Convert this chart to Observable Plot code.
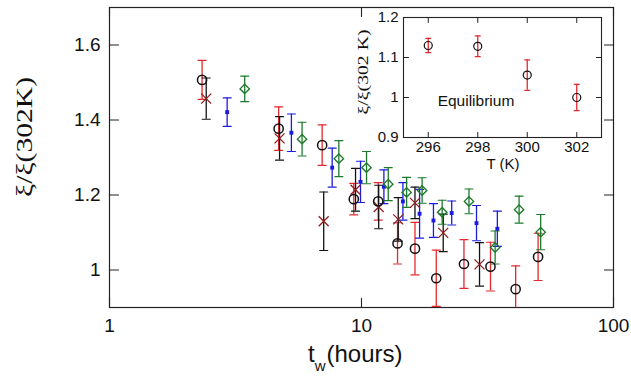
<!DOCTYPE html>
<html>
<head>
<meta charset="utf-8">
<script src="https://cdn.jsdelivr.net/npm/d3@7"></script>
<script src="https://cdn.jsdelivr.net/npm/@observablehq/plot@0.6"></script>
<style>
  html, body { margin: 0; padding: 0; background: white; }
  #wrap { position: relative; width: 631px; height: 378px; }
  #wrap svg { position: absolute; left: 0; top: 0; }
</style>
</head>
<body>
<div id="wrap"></div>
<script>
// ---- main panel data: waiting time t_w (hours), xi/xi(302K), error ----
const circT = [2.33, 4.69, 6.98, 9.32, 11.65, 13.9, 16.3, 19.8, 25.5, 32.5, 40.9, 50.2];
const circV = [1.507, 1.377, 1.333, 1.189, 1.183, 1.071, 1.057, 0.978, 1.016, 1.009, 0.949, 1.035];
const circE = [0.052, 0.058, 0.054, 0.042, 0.05, 0.055, 0.07, 0.075, 0.065, 0.065, 0.062, 0.063];

const crossT = [2.42, 4.73, 7.08, 9.47, 11.7, 13.99, 16.3, 21.1, 29.4];
const crossV = [1.457, 1.351, 1.130, 1.214, 1.168, 1.135, 1.179, 1.099, 1.015];
const crossE = [0.055, 0.058, 0.078, 0.057, 0.058, 0.058, 0.042, 0.05, 0.058];

const sqT = [2.93, 5.27, 7.65, 9.91, 12.27, 14.6, 17.0, 19.3, 22.8, 28.6, 34.6];
const sqV = [1.421, 1.366, 1.273, 1.235, 1.222, 1.183, 1.15, 1.132, 1.152, 1.125, 1.110];
const sqE = [0.038, 0.05, 0.052, 0.055, 0.045, 0.05, 0.065, 0.045, 0.032, 0.047, 0.047];

const diaT = [3.44, 5.81, 8.13, 10.47, 12.77, 15.1, 17.4, 20.9, 26.7, 33.9, 42.2, 51.4];
const diaV = [1.483, 1.349, 1.297, 1.273, 1.229, 1.207, 1.212, 1.154, 1.183, 1.060, 1.161, 1.101];
const diaE = [0.034, 0.045, 0.048, 0.043, 0.044, 0.04, 0.034, 0.032, 0.033, 0.044, 0.036, 0.047];

const xTicks = [1, 10, 100];
const yTicks = [1, 1.2, 1.4, 1.6];

// ---- inset data: equilibrium vs temperature ----
const eqT = [296, 298, 300, 302];
const eqV = [1.13, 1.128, 1.056, 1.0];
const eqE = [0.018, 0.026, 0.038, 0.033];
const inXTicks = [296, 298, 300, 302];
const inYTicks = [0.9, 1, 1.1, 1.2];

const rows = (T, V, E) => T.map((t, i) => ({t, v: V[i], lo: V[i] - E[i], hi: V[i] + E[i]}));
const circ = rows(circT, circV, circE);
const cross = rows(crossT, crossV, crossE);
const sq = rows(sqT, sqV, sqE);
const dia = rows(diaT, diaV, diaE);
const eq = rows(eqT, eqV, eqE);

const lineShape = {draw(ctx, l) { ctx.moveTo(0, 0); ctx.lineTo(0, -l); }};

const RED = "#e5282e", BLUE = "#1c1ce0", GREEN = "#1d7a2c", DARKRED = "#8e1d1d", BLACK = "#111";

function errBars(data, color, capLen) {
  return [
    Plot.ruleX(data, {x: "t", y1: "lo", y2: "hi", stroke: color, strokeWidth: 1.3, clip: true}),
    Plot.vector(data, {x: "t", y: "lo", rotate: 90, length: capLen, anchor: "middle", shape: lineShape, stroke: color, strokeWidth: 1.2, clip: true}),
    Plot.vector(data, {x: "t", y: "hi", rotate: 90, length: capLen, anchor: "middle", shape: lineShape, stroke: color, strokeWidth: 1.2, clip: true})
  ];
}

function inwardTicks(xt, yt, len, w) {
  return [
    Plot.vector(yt, {y: d => d, frameAnchor: "left", rotate: 90, length: len, anchor: "start", shape: lineShape, stroke: "#222", strokeWidth: w}),
    Plot.vector(yt, {y: d => d, frameAnchor: "right", rotate: -90, length: len, anchor: "start", shape: lineShape, stroke: "#222", strokeWidth: w}),
    Plot.vector(xt, {x: d => d, frameAnchor: "bottom", rotate: 0, length: len, anchor: "start", shape: lineShape, stroke: "#222", strokeWidth: w}),
    Plot.vector(xt, {x: d => d, frameAnchor: "top", rotate: 180, length: len, anchor: "start", shape: lineShape, stroke: "#222", strokeWidth: w})
  ];
}

const main = Plot.plot({
  width: 631, height: 378,
  marginLeft: 109, marginRight: 18, marginTop: 7, marginBottom: 71,
  style: {fontFamily: "'Liberation Sans', Arial, sans-serif", fontSize: "19px", background: "white", color: "#111"},
  x: {type: "log", domain: [1, 100]},
  y: {domain: [0.9, 1.7]},
  marks: [
    Plot.frame({stroke: "#222", strokeWidth: 1.2}),
    ...inwardTicks(xTicks, yTicks, 9, 1.1),
    Plot.axisX({ticks: xTicks, tickSize: 0, tickPadding: 11, tickFormat: d => String(d), label: null, fontSize: 19}),
    Plot.axisY({ticks: yTicks, tickSize: 0, tickPadding: 9, tickFormat: d => String(d), label: null, fontSize: 19}),
    ...errBars(circ, RED, 8),
    ...errBars(cross, BLACK, 8),
    ...errBars(sq, BLUE, 8),
    ...errBars(dia, GREEN, 8),
    Plot.dot(sq, {x: "t", y: "v", symbol: "square", r: 2.2, fill: BLUE}),
    Plot.dot(dia, {x: "t", y: "v", symbol: "diamond2", r: 4.2, stroke: GREEN, strokeWidth: 1.4, fill: "none"}),
    Plot.dot(cross, {x: "t", y: "v", symbol: "times", r: 4.6, stroke: DARKRED, strokeWidth: 1.3}),
    Plot.dot(circ, {x: "t", y: "v", symbol: "circle", r: 4.6, stroke: BLACK, strokeWidth: 1.5, fill: "none"})
  ]
});

const inset = Plot.plot({
  width: 631, height: 378,
  marginLeft: 403, marginRight: 30, marginTop: 17, marginBottom: 241,
  style: {fontFamily: "'Liberation Sans', Arial, sans-serif", fontSize: "15px", background: "transparent", color: "#111"},
  x: {domain: [295, 303]},
  y: {domain: [0.9, 1.2]},
  marks: [
    Plot.frame({fill: "white", stroke: "#222", strokeWidth: 1.1}),
    ...inwardTicks(inXTicks, inYTicks, 5, 1),
    Plot.axisX({ticks: inXTicks, tickSize: 0, tickPadding: 4, tickFormat: d => String(d), label: null, fontSize: 15}),
    Plot.axisY({ticks: inYTicks, tickSize: 0, tickPadding: 5, tickFormat: d => String(d), label: null, fontSize: 15}),
    ...errBars(eq, RED, 5),
    Plot.dot(eq, {x: "t", y: "v", symbol: "circle", r: 4, stroke: BLACK, strokeWidth: 1.2, fill: "none"})
  ]
});
inset.style.pointerEvents = "none";

const wrap = document.getElementById("wrap");
wrap.appendChild(main);
wrap.appendChild(inset);

// ---- labels ----
const ms = d3.select(main);
ms.append("text")
  .attr("transform", "translate(24,137) rotate(-90)")
  .attr("text-anchor", "middle").attr("dominant-baseline", "central")
  .attr("font-family", "'Liberation Serif', 'Times New Roman', serif")
  .attr("font-size", 23).attr("fill", "#111")
  .attr("textLength", 120).attr("lengthAdjust", "spacingAndGlyphs")
  .text("ξ/ξ(302K)");
const xl = ms.append("text")
  .attr("x", 308).attr("y", 362).attr("text-anchor", "start")
  .attr("font-family", "'Liberation Sans', Arial, sans-serif")
  .attr("font-size", 24).attr("fill", "#111");
xl.append("tspan").text("t");
xl.append("tspan").attr("font-size", 15).attr("dy", 9).text("w");
xl.append("tspan").attr("dy", -9).attr("dx", 1).text("(hours)");

const is = d3.select(inset);
is.append("text")
  .attr("transform", "translate(363,72) rotate(-90)")
  .attr("text-anchor", "middle").attr("dominant-baseline", "central")
  .attr("font-family", "'Liberation Serif', 'Times New Roman', serif")
  .attr("font-size", 15).attr("fill", "#111")
  .attr("textLength", 85).attr("lengthAdjust", "spacingAndGlyphs")
  .text("ξ/ξ(302 K)");
is.append("text")
  .attr("x", 503).attr("y", 169).attr("text-anchor", "middle")
  .attr("font-family", "'Liberation Sans', Arial, sans-serif")
  .attr("font-size", 15).attr("fill", "#111")
  .text("T (K)");
is.append("text")
  .attr("x", 476).attr("y", 106).attr("text-anchor", "middle")
  .attr("font-family", "'Liberation Sans', Arial, sans-serif")
  .attr("font-size", 15.5).attr("fill", "#111")
  .text("Equilibrium");
</script>
</body>
</html>
